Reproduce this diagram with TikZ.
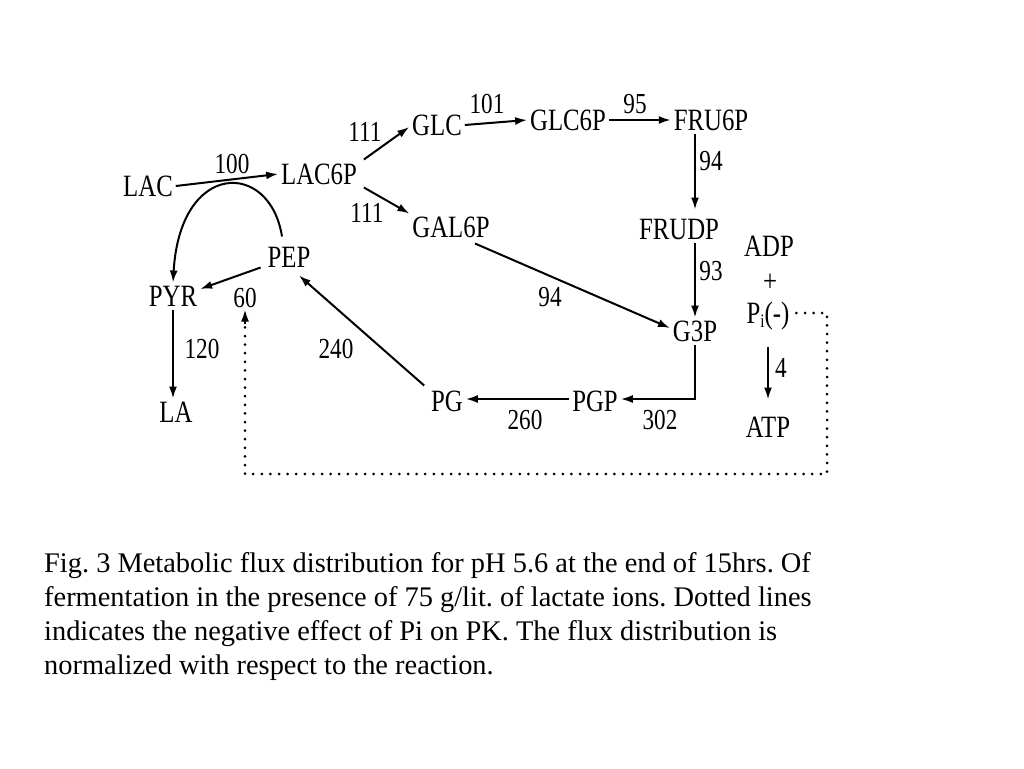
\documentclass[tikz,border=0pt]{standalone}
\usepackage{fontspec}
\usetikzlibrary{arrows.meta,calc}
\newfontfamily\diag[FakeStretch=0.8]{Liberation Serif}
\newfontfamily\capfont{Liberation Serif}
\newcommand{\subi}{\raisebox{-4pt}{\fontsize{19}{19}\selectfont i}}
\begin{document}
\begin{tikzpicture}[x=1pt,y=-1pt,
  n/.style={font=\diag\fontsize{31}{31}\selectfont, inner sep=1pt, outer sep=2pt, text height=21pt, text depth=0pt},
  lbl/.style={font=\diag\fontsize{29}{29}\selectfont, inner sep=0pt, text height=19pt, text depth=0pt},
  arr/.style={line width=2pt, -{Latex[length=12pt,width=8pt]}},
  dots/.style={line width=3pt, line cap=round, dash pattern=on 0pt off 8.6pt},
]
\useasboundingbox (0,0) rectangle (1024,768);
% metabolite nodes
\node[n] (lac) at (148,186) {LAC};
\node[n] (lac6p) at (319,174) {LAC6P};
\node[n] (glc) at (437,125) {GLC};
\node[n] (glc6p) at (568,120) {GLC6P};
\node[n] (fru6p) at (711,120) {FRU6P};
\node[n] (gal6p) at (451,227) {GAL6P};
\node[n] (frudp) at (679,229) {FRUDP};
\node[n] (pep) at (289,257) {PEP};
\node[n] (pyr) at (173,296) {PYR};
\node[n] (la) at (176,412) {LA};
\node[n] (g3p) at (695,331) {G3P};
\node[n] (pgp) at (595,401) {PGP};
\node[n] (pg) at (447,401) {PG};
\node[n] (adp) at (769,246) {ADP};
\node[n] (plus) at (770,281) {+};
\node[n] (pi) at (768,313) {P\subi(-)};
\node[n] (atp) at (768,427) {ATP};
% flux labels
\node[lbl] (f100) at (232,164) {100};
\node[lbl] (f111a) at (365,132) {111};
\node[lbl] (f111b) at (367,213) {111};
\node[lbl] (f101) at (487,104) {101};
\node[lbl] (f95) at (635,104) {95};
\node[lbl] (f94a) at (711,161) {94};
\node[lbl] (f93) at (711,271) {93};
\node[lbl] (f94b) at (550,297) {94};
\node[lbl,outer sep=2pt] (f60) at (245,298) {60};
\node[lbl] (f120) at (202,349) {120};
\node[lbl] (f240) at (336,349) {240};
\node[lbl] (f260) at (525,420) {260};
\node[lbl] (f302) at (660,420) {302};
\node[lbl] (f4) at (781,368) {4};
% helper coordinates
\coordinate (vx) at (695,0);
\coordinate (dr) at (827,315);
\coordinate (dl) at (245,474);
% connectors
\draw[arr] (lac.east) -- (lac6p.west);
\draw[arr] ([xshift=4pt,yshift=1pt]lac6p.north east) -- ([yshift=-2pt]glc.west);
\draw[arr] ([xshift=4pt]lac6p.south east) -- (gal6p.north west);
\draw[arr] (glc.east) -- (glc6p.west);
\draw[arr] (glc6p.east) -- (fru6p.west);
\draw[arr, shorten >=6pt] (fru6p.south -| vx) -- (frudp.north -| vx);
\draw[arr] (frudp.south -| vx) -- (g3p.north -| vx);
\draw[arr] ([xshift=24pt,yshift=-3pt]gal6p.south) -- ([yshift=3pt]g3p.west);
\draw[arr] (g3p.south) |- ([yshift=2pt]pgp.east);
\draw[arr] ([yshift=2pt]pgp.west) -- ([yshift=2pt]pg.east);
\draw[arr] ([xshift=-4pt,yshift=2pt]pg.north west) -- ([xshift=10pt,yshift=-5pt]pep.south);
\draw[arr] ([xshift=-4pt,yshift=3pt]pep.south west) -- ([yshift=7pt]pyr.east);
\draw[arr] (pyr.south) -- (la.north -| pyr.south);
\draw[arr] ([xshift=-7pt,yshift=7pt]pep.north) .. controls (270,160) and (180,160) .. (pyr.north);
\draw[arr, shorten <=20pt, shorten >=14pt] (pi.south) -- (atp.north);
% inhibition by Pi (dotted)
\draw[dots] ([xshift=4pt]pi.east) -- (pi.east -| dr) |- (dl) -- ([yshift=-14pt]dl |- f60.south);
\draw[line width=2pt, -{Latex[length=12pt,width=8pt]}] ([yshift=-14pt]dl |- f60.south) -- (dl |- f60.south);
% caption
\node[anchor=base west, inner sep=0pt, align=left, font=\capfont\fontsize{28.4}{34}\selectfont\frenchspacing] (cap) at (44,674)
{Fig. 3 Metabolic flux distribution for pH 5.6 at the end of 15hrs. Of\\
fermentation in the presence of 75 g/lit. of lactate ions. Dotted lines\\
indicates the negative effect of Pi on PK. The flux distribution is\\
normalized with respect to the reaction.};
\end{tikzpicture}
\end{document}
